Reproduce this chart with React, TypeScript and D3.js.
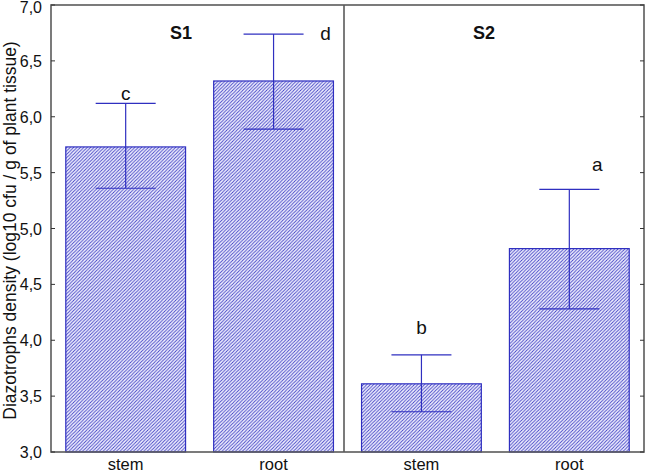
import React from 'react';
import * as d3 from 'd3';

const groups = ['S1', 'S2'];
const parts = ['stem', 'root'];
const means = [5.73, 6.32, 3.61, 4.82];
const lows = [5.36, 5.89, 3.36, 4.28];
const highs = [6.12, 6.74, 3.87, 5.35];
const letters = ['c', 'd', 'b', 'a'];
const yTicks = [3, 3.5, 4, 4.5, 5, 5.5, 6, 6.5, 7];

export default function App() {
  const W = 646;
  const H = 474;
  const left = 51;
  const right = 644;
  const top = 5;
  const bottom = 452;

  const keys = groups.flatMap(g => parts.map(p => `${g}-${p}`));
  const x = d3.scaleBand().domain(keys).range([left, right]).paddingInner(0.19).paddingOuter(0.1);
  const y = d3.scaleLinear().domain([3, 7]).range([bottom, top]);
  const bw = x.bandwidth();
  const divider = 344;
  const fmt = (v: number) => v.toFixed(1).replace('.', ',');
  const blue = '#2f2fc0';
  const capHalf = 30;

  // letter baselines and x shift off the bar centre
  const letterBase = [100, 40, 334, 171];
  const letterDx = [0, 52, 0, 28];

  return (
    <svg width={W} height={H} style={{ position: 'absolute', left: 0, top: 0 }} fontFamily="Liberation Sans, Arial, sans-serif">
      <defs>
        <pattern id="hatch" patternUnits="userSpaceOnUse" width={3.4} height={3.4}>
          <rect width={3.4} height={3.4} fill="#f4f4ff" />
          <path d="M-1,1 l2,-2 M0,3.4 l3.4,-3.4 M2.4,4.4 l2,-2" stroke="#4040c4" strokeWidth={0.9} />
        </pattern>
      </defs>
      <rect x={0} y={0} width={W} height={H} fill="#fff" />

      {keys.map((k, i) => {
        const cx = (x(k) as number) + bw / 2;
        return (
          <g key={k}>
            <rect x={x(k)} y={y(means[i])} width={bw} height={bottom - y(means[i])} fill="url(#hatch)" stroke={blue} strokeWidth={1.2} />
            <line x1={cx} x2={cx} y1={y(lows[i])} y2={y(highs[i])} stroke={blue} strokeWidth={1.2} />
            <line x1={cx - capHalf} x2={cx + capHalf} y1={y(lows[i])} y2={y(lows[i])} stroke={blue} strokeWidth={1.2} />
            <line x1={cx - capHalf} x2={cx + capHalf} y1={y(highs[i])} y2={y(highs[i])} stroke={blue} strokeWidth={1.2} />
            <text x={cx + letterDx[i]} y={letterBase[i]} textAnchor="middle" fontSize={19} fill="#111">{letters[i]}</text>
            <text x={cx} y={470} textAnchor="middle" fontSize={16.5} fill="#111">{parts[i % 2]}</text>
          </g>
        );
      })}

      {/* frame */}
      <rect x={left} y={top} width={right - left} height={bottom - top} fill="none" stroke="#5a5a5a" strokeWidth={1.6} />
      <line x1={divider} x2={divider} y1={top} y2={bottom} stroke="#5a5a5a" strokeWidth={1.6} />

      {yTicks.map(t => (
        <g key={t}>
          <line x1={left} x2={left + 4} y1={y(t)} y2={y(t)} stroke="#333" />
          <line x1={right - 4} x2={right} y1={y(t)} y2={y(t)} stroke="#333" />
          <text x={42} y={Math.max(y(t) + 6, 13)} textAnchor="end" fontSize={16} fill="#111">{fmt(t)}</text>
        </g>
      ))}

      <text x={181} y={39} textAnchor="middle" fontSize={18} fontWeight="bold" fill="#111">S1</text>
      <text x={484} y={39} textAnchor="middle" fontSize={18} fontWeight="bold" fill="#111">S2</text>

      <text transform={`translate(15.5,${(top + bottom) / 2 + 2}) rotate(-90)`} textAnchor="middle" fontSize={17.5} fill="#111">
        Diazotrophs density (log10 cfu / g of plant tissue)
      </text>
    </svg>
  );
}
